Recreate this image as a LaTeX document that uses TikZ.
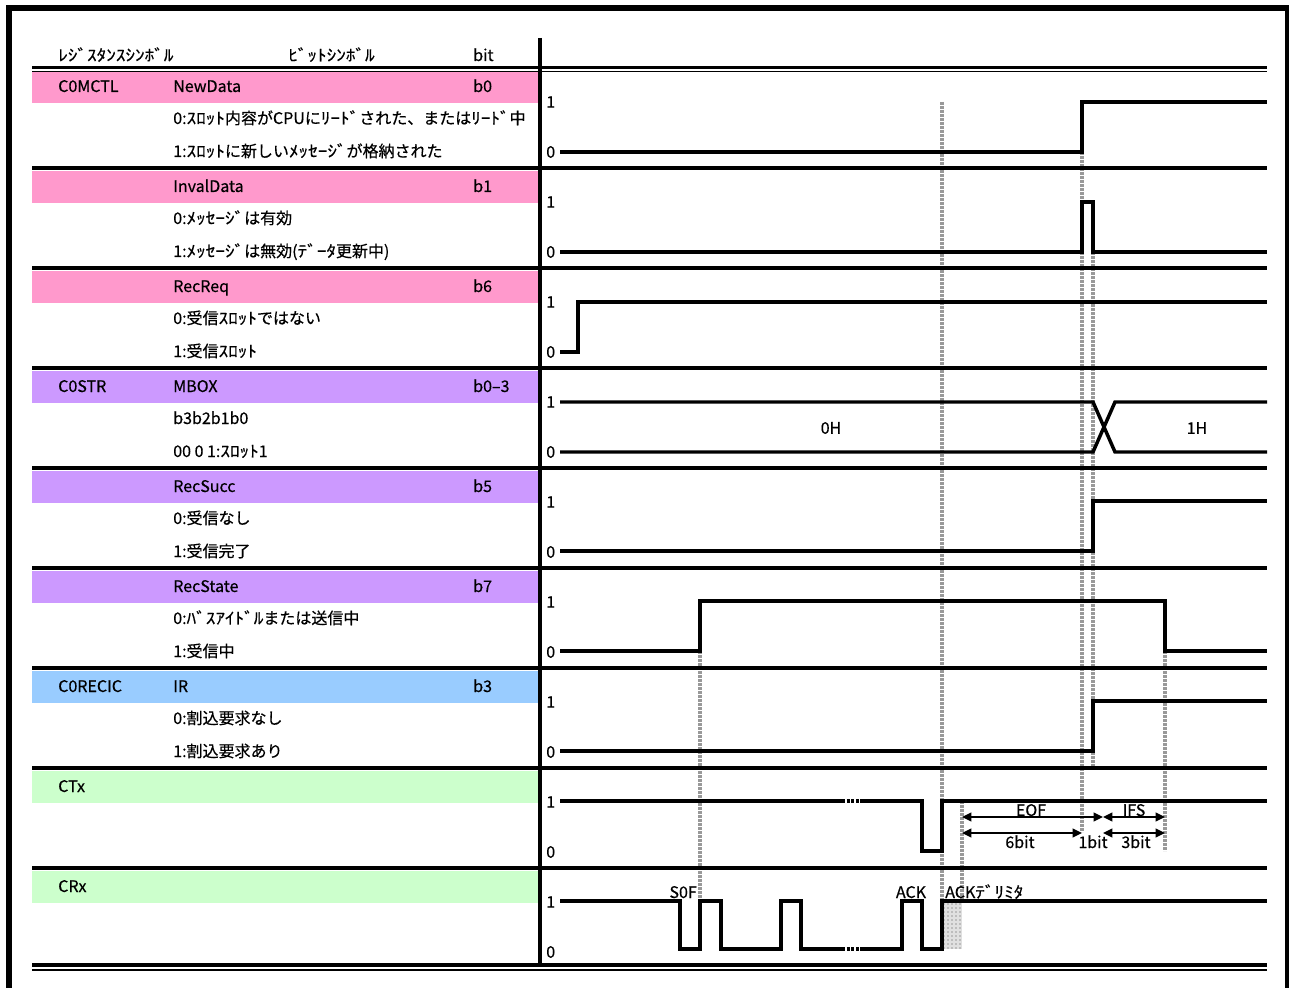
\documentclass[tikz,border=0pt]{standalone}
\usepackage{fontspec}
\setmainfont[FakeBold=0.4]{Noto Sans CJK JP}
\newfontfamily\hwkana[FakeStretch=1.2,FakeBold=0.4]{Noto Sans CJK JP}
\newcommand\hw[1]{{\hwkana #1}}
\usetikzlibrary{patterns,arrows.meta}

\definecolor{regpink}{RGB}{255,153,204}
\definecolor{regviolet}{RGB}{204,153,255}
\definecolor{regblue}{RGB}{153,204,255}
\definecolor{reggreen}{RGB}{204,255,204}

\begin{document}
\begin{tikzpicture}[x=0.75pt,y=-0.75pt,font=\fontsize{12}{14}\selectfont,
    every node/.style={inner sep=0pt},
    txt/.style={anchor=base west},
    lvl/.style={anchor=west},
    sig/.style={line width=2.6pt},
    sepline/.style={line width=2.4pt},
    guide/.style={black!40,line width=2.3pt,dash pattern=on 2pt off 1pt},
    span/.style={line width=1.2pt,{Triangle[length=7pt,width=6.5pt]}-{Triangle[length=7pt,width=6.5pt]}},
    gapline/.style={line width=2.6pt,dash pattern=on 2.2pt off 1.3pt}]
    \fill[white] (0,0) rectangle (1289,988);
    \useasboundingbox (0,0) rectangle (1289,988);
    % frame
    \draw[line width=4.5pt] (8.5,995) |- (1287.5,8.5) -- (1287.5,995);
    % colour bands of the rows
    \foreach \k/\col in {0/regpink,1/regpink,2/regpink,3/regviolet,4/regviolet,
        5/regviolet,6/regblue,7/reggreen,8/reggreen}
        \fill[\col] (32,71+100*\k) rectangle (538,103+100*\k);
    % header
    \node[txt] (hreg) at (58,61) {\hw{ﾚｼﾞｽﾀﾝｽｼﾝﾎﾞﾙ}};
    \node[txt] (hbit) at (288,61) {\hw{ﾋﾞｯﾄｼﾝﾎﾞﾙ}};
    \node[txt] (hno) at (473,61) {bit};
    % guide lines
    \draw[guide] (942,102) -- (942,901);
    \draw[guide] (700,651) -- (700,901);
    \draw[guide] (1082,152) -- (1082,832);
    \draw[guide] (1093,252) -- (1093,766);
    \draw[guide] (1165,651) -- (1165,851);
    \draw[guide] (962,801) -- (962,901);
    \fill[black!12] (942,901) rectangle (962,949);
    \fill[pattern=dots,pattern color=black!70] (942,901) rectangle (962,949);
    % table lines
    \draw[line width=2.4pt] (32,67.5) -- (1267,67.5);
    \draw[line width=1.3pt] (32,71.5) -- (1267,71.5);
    \foreach \k in {1,...,8}
        \draw[sepline] (32,68+100*\k) -- (1267,68+100*\k);
    \draw[line width=2.4pt] (32,965) -- (1267,965);
    \draw[line width=1.3pt] (32,970) -- (1267,970);
    \draw[line width=2.4pt] (540,38) -- (540,965);
    % levels
    \foreach \k in {0,...,8} {
        \node[lvl] (one\k) at (546,102+100*\k) {1};
        \node[lvl] (zero\k) at (546,152+100*\k) {0};
    }
    % C0MCTL
    \node[txt] (r0a) at (58,92) {C0MCTL};
    \node[txt] (r0b) at (173,92) {NewData};
    \node[txt] (r0c) at (473,92) {b0};
    \node[txt] (r0d) at (173,124) {0:\hw{ｽﾛｯﾄ}内容がCPUに\hw{ﾘｰﾄﾞ}された、または\hw{ﾘｰﾄﾞ}中};
    \node[txt] (r0e) at (173,157) {1:\hw{ｽﾛｯﾄ}に新しい\hw{ﾒｯｾｰｼﾞ}が格納された};
    \node[txt] (r1b) at (173,192) {InvalData};
    \node[txt] (r1c) at (473,192) {b1};
    \node[txt] (r1d) at (173,224) {0:\hw{ﾒｯｾｰｼﾞ}は有効};
    \node[txt] (r1e) at (173,257) {1:\hw{ﾒｯｾｰｼﾞ}は無効(\hw{ﾃﾞｰﾀ}更新中)};
    \node[txt] (r2b) at (173,292) {RecReq};
    \node[txt] (r2c) at (473,292) {b6};
    \node[txt] (r2d) at (173,324) {0:受信\hw{ｽﾛｯﾄ}ではない};
    \node[txt] (r2e) at (173,357) {1:受信\hw{ｽﾛｯﾄ}};
    % C0STR
    \node[txt] (r3a) at (58,392) {C0STR};
    \node[txt] (r3b) at (173,392) {MBOX};
    \node[txt] (r3c) at (473,392) {b0–3};
    \node[txt] (r3d) at (173,424) {b3b2b1b0};
    \node[txt] (r3e) at (173,457) {00 0 1:\hw{ｽﾛｯﾄ}1};
    \node[txt] (r4b) at (173,492) {RecSucc};
    \node[txt] (r4c) at (473,492) {b5};
    \node[txt] (r4d) at (173,524) {0:受信なし};
    \node[txt] (r4e) at (173,557) {1:受信完了};
    \node[txt] (r5b) at (173,592) {RecState};
    \node[txt] (r5c) at (473,592) {b7};
    \node[txt] (r5d) at (173,624) {0:\hw{ﾊﾞｽｱｲﾄﾞﾙ}または送信中};
    \node[txt] (r5e) at (173,657) {1:受信中};
    % C0RECIC
    \node[txt] (r6a) at (58,692) {C0RECIC};
    \node[txt] (r6b) at (173,692) {IR};
    \node[txt] (r6c) at (473,692) {b3};
    \node[txt] (r6d) at (173,724) {0:割込要求なし};
    \node[txt] (r6e) at (173,757) {1:割込要求あり};
    % bus lines
    \node[txt] (r7a) at (58,792) {CTx};
    \node[txt] (r8a) at (58,892) {CRx};
    % waveforms
    \draw[sig] (560,152) -- (1082,152) -- (1082,102) -- (1267,102);
    \draw[sig] (560,252) -- (1082,252) -- (1082,202) -- (1093,202) -- (1093,252) -- (1267,252);
    \draw[sig] (560,352) -- (578,352) -- (578,302) -- (1267,302);
    \draw[sig] (560,402) -- (1093,402) -- (1115,452) -- (1267,452);
    \draw[sig] (560,452) -- (1093,452) -- (1115,402) -- (1267,402);
    \node (val0) at (831,428) {0H};
    \node (val1) at (1197,428) {1H};
    \draw[sig] (560,551) -- (1093,551) -- (1093,501) -- (1267,501);
    \draw[sig] (560,651) -- (700,651) -- (700,601) -- (1165,601) -- (1165,651) -- (1267,651);
    \draw[sig] (560,751) -- (1093,751) -- (1093,701) -- (1267,701);
    % CTx
    \draw[sig] (560,801) -- (842,801);
    \draw[gapline] (842,801) -- (860,801);
    \draw[sig] (860,801) -- (922,801) -- (922,851) -- (942,851) -- (942,801) -- (1267,801);
    % CRx
    \draw[sig] (560,901) -- (680,901) -- (680,949) -- (700,949) -- (700,901) -- (721,901)
        -- (721,949) -- (781,949) -- (781,901) -- (801,901) -- (801,949) -- (842,949);
    \draw[gapline] (842,949) -- (860,949);
    \draw[sig] (860,949) -- (902,949) -- (902,901) -- (922,901) -- (922,949) -- (942,949)
        -- (942,901) -- (1267,901);
    \node[anchor=base east] (sof) at (697,898) {S0F};
    \node[anchor=base] (ack) at (911,898) {ACK};
    \node[anchor=base west] (ackdel) at (945,898) {ACK\hw{ﾃﾞﾘﾐﾀ}};
    % frame end
    \coordinate (eofL) at (962,817);
    \coordinate (eofR) at (1103,817);
    \coordinate (ifsR) at (1165,817);
    \coordinate (bitL) at (962,833);
    \coordinate (bitM) at (1082,833);
    \coordinate (bitN) at (1103,833);
    \coordinate (bitR) at (1165,833);
    \draw[span] (eofL) -- (eofR);
    \draw[span] (eofR) -- (ifsR);
    \draw[span] (bitL) -- (bitM);
    \draw[span] (bitN) -- (bitR);
    \node[anchor=base] (eof) at (1031,816) {EOF};
    \node[anchor=base] (ifs) at (1134,816) {IFS};
    \node[anchor=base] (six) at (1020,848) {6bit};
    \node[anchor=base] (one) at (1093,848) {1bit};
    \node[anchor=base] (three) at (1136,848) {3bit};
\end{tikzpicture}
\end{document}
